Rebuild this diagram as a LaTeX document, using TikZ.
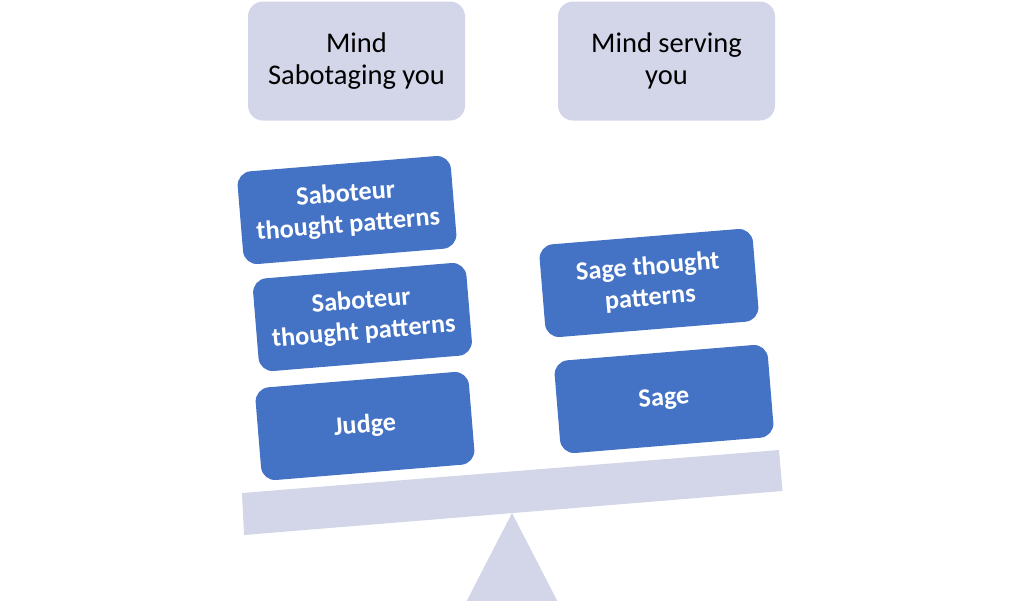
\documentclass[tikz,border=0pt]{standalone}
\usepackage{fontspec}
\setmainfont{Carlito}
\definecolor{lav}{HTML}{D3D6E8}
\definecolor{bbox}{HTML}{4472C4}
\tikzset{
  topbox/.style={fill=lav, rounded corners=15pt, minimum width=217pt, minimum height=119pt, align=center, inner sep=0pt, text=black, font=\fontsize{28.5}{31.5}\selectfont},
  bluebox/.style={fill=bbox, rounded corners=14pt, minimum width=214pt, minimum height=93pt, align=center, inner sep=0pt, text=white, font=\fontsize{26.3}{31}\selectfont\bfseries},
}
\begin{document}
\begin{tikzpicture}[x=1pt,y=-1pt]
\useasboundingbox (0,0) rectangle (1024,600);
\begin{scope}
\clip (0,0) rectangle (1024,600);
\fill[lav] (512,513) -- (461,612) -- (563,612) -- cycle;
\end{scope}
\fill[lav] (242,493) -- (779,450) -- (782.5,491) -- (244,535) -- cycle;
\node[topbox] (ms) at (356.5,61) {Mind\\Sabotaging you};
\node[topbox] (mv) at (666.5,61) {Mind serving\\you};
\node[bluebox, rotate=4.7] (s1) at (347,210) {Saboteur\\thought patterns};
\node[bluebox, rotate=4.7] (s2) at (362.5,317) {Saboteur\\thought patterns};
\node[bluebox, rotate=4.7] (j) at (365,426) {Judge};
\node[bluebox, rotate=4.7] (st) at (649,283) {Sage thought\\patterns};
\node[bluebox, rotate=4.7] (sg) at (664,399) {Sage};
\end{tikzpicture}
\end{document}
